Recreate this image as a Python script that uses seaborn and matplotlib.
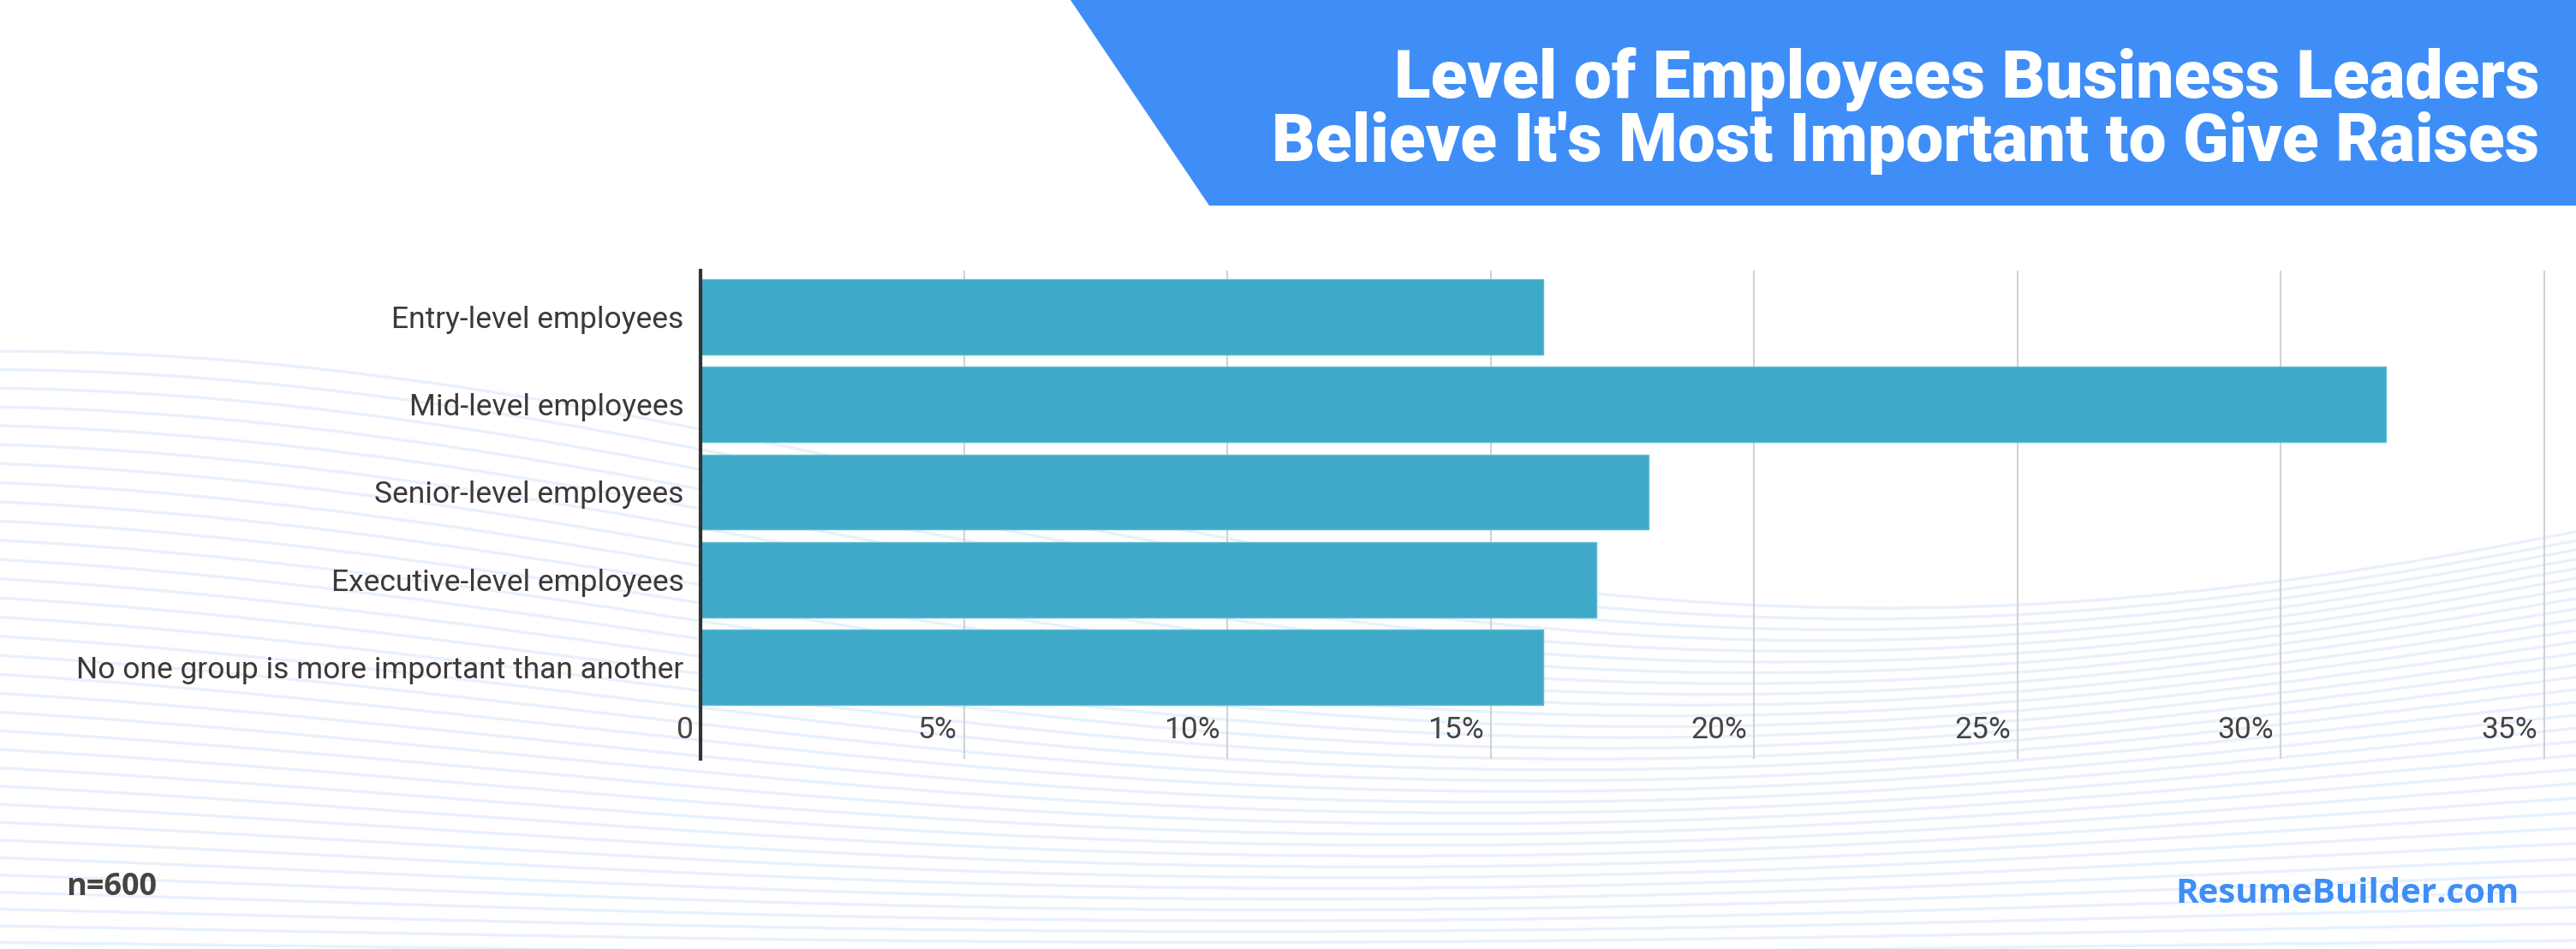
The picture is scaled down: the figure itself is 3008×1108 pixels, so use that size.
# Level of employees business leaders believe it's most important to give raises

import numpy as np
import pandas as pd
import matplotlib.pyplot as plt
import matplotlib.transforms as mtransforms
from matplotlib.patches import Polygon
import seaborn as sns

sns.set_theme(style="white")
plt.rcParams['font.family'] = ['Roboto', 'DejaVu Sans']

# Data
categories = [
    "Entry-level employees",
    "Mid-level employees",
    "Senior-level employees",
    "Executive-level employees",
    "No one group is more important than another",
]
shares = [16, 32, 18, 17, 16]
x_ticks = [0, 5, 10, 15, 20, 25, 30, 35]
x_tick_labels = ["0", "5%", "10%", "15%", "20%", "25%", "30%", "35%"]

df = pd.DataFrame({"category": categories, "share": shares})

W, H = 3008, 1108
fig = plt.figure(figsize=(W / 100, H / 100), dpi=100)
fig.patch.set_facecolor("white")

# background: faint wavy lines and the title banner
bg = fig.add_axes([0, 0, 1, 1], zorder=0)
bg.set_xlim(0, W)
bg.set_ylim(H, 0)
bg.axis("off")
xs = np.linspace(0, W, 400)
for k in range(36):
    base = 560 + k * 17
    amp = 150 * max(0.0, 1 - k / 34)
    ys = base - amp * np.cos(2 * np.pi * (xs + k * 25) / 4400)
    bg.plot(xs, ys, color="#e8f1fd", lw=2.4, solid_capstyle="round")

blue = "#3f8ef7"
bg.add_patch(Polygon([[1250, 0], [W, 0], [W, 240], [1412, 240]], closed=True,
                     facecolor=blue, edgecolor="none"))
title_font = ["Roboto", "DejaVu Sans"]
bg.text(2965, 93, "Level of Employees Business Leaders", ha="right", va="center",
        color="white", fontsize=56.5, fontweight="heavy", family=title_font)
bg.text(2965, 167, "Believe It's Most Important to Give Raises", ha="right", va="center",
        color="white", fontsize=56.5, fontweight="heavy", family=title_font)
bg.text(77, 1036, "n=600", ha="left", va="center", color="#444444",
        fontsize=26, fontweight="bold", family=["Open Sans", "DejaVu Sans"])
bg.text(2942, 1043, "ResumeBuilder.com", ha="right", va="center", color=blue,
        fontsize=29, fontweight="bold", family=["Open Sans", "DejaVu Sans"])

# main chart
left, right = 818 / W, 2977 / W
bottom, top = 1 - 886 / H, 1 - 316 / H
ax = fig.add_axes([left, bottom, right - left, top - bottom], zorder=1)
ax.patch.set_alpha(0)

sns.barplot(data=df, y="category", x="share", orient="h", color="#3fa9c8",
            saturation=1, width=0.86, edgecolor="#62bcd6", linewidth=1,
            ax=ax, zorder=2)

ax.set_xlim(0, 35.1)
ax.set_ylim(5.05, -0.53)
ax.set_xlabel("")
ax.set_ylabel("")
ax.set_xticks(x_ticks)
ax.set_xticklabels(x_tick_labels)
ax.grid(axis="x", color="#d2d2d2", lw=1.5, zorder=0)
ax.set_axisbelow(True)
for s in ["top", "right", "bottom"]:
    ax.spines[s].set_visible(False)
ax.spines["left"].set_color("#333333")
ax.spines["left"].set_linewidth(3)
ax.spines["left"].set_zorder(3)

ax.tick_params(axis="y", length=0, pad=14, labelsize=25.5, labelcolor="#3a3a3a")
ax.tick_params(axis="x", length=0, pad=-36, labelsize=25.5, labelcolor="#444444")
offset = mtransforms.ScaledTranslation(-8 / 100, 0, fig.dpi_scale_trans)
for lab in ax.get_xticklabels():
    lab.set_horizontalalignment("right")
    lab.set_transform(lab.get_transform() + offset)

plt.savefig("out.png", dpi=100)
